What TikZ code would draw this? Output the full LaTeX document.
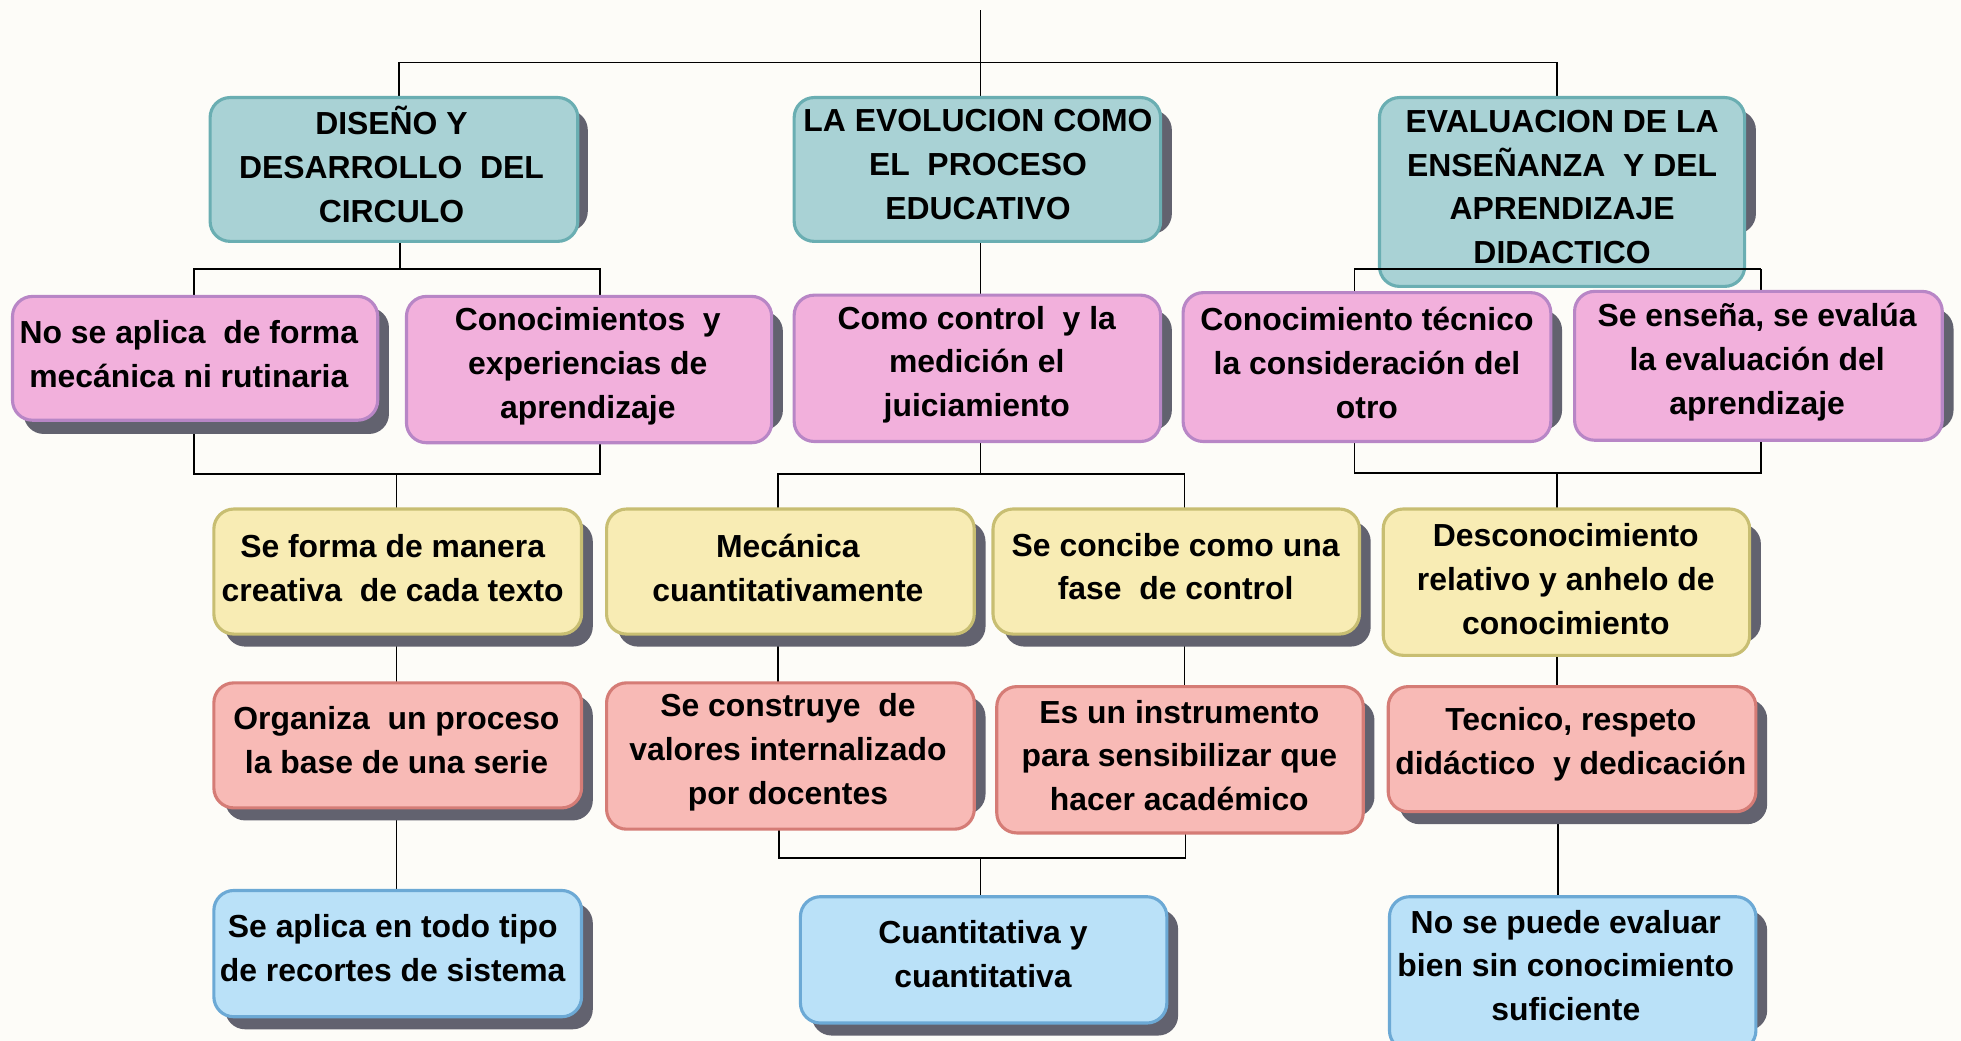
\documentclass[tikz,border=0pt]{standalone}
\usepackage{fontspec}
\setmainfont{Liberation Sans}
\definecolor{bgc}{HTML}{FDFCF8}
\definecolor{shadowc}{HTML}{62626F}
\definecolor{tealF}{HTML}{A9D2D5}
\definecolor{tealD}{HTML}{6AAEB2}
\definecolor{pinkF}{HTML}{F2B0DC}
\definecolor{pinkD}{HTML}{B886C6}
\definecolor{yelF}{HTML}{F8ECB4}
\definecolor{yelD}{HTML}{C8BE72}
\definecolor{salF}{HTML}{F8BAB6}
\definecolor{salD}{HTML}{D57C76}
\definecolor{bluF}{HTML}{BAE1F8}
\definecolor{bluD}{HTML}{6CA9D5}
\tikzset{
  box/.style={draw, line width=1.5pt, rounded corners=9.6pt, inner sep=0pt},
  tealbox/.style={box, fill=tealF, draw=tealD},
  pinkbox/.style={box, fill=pinkF, draw=pinkD},
  yelbox/.style={box, fill=yelF, draw=yelD},
  salbox/.style={box, fill=salF, draw=salD},
  blubox/.style={box, fill=bluF, draw=bluD},
  sz/.style n args={4}{minimum width={(#3-#1)*0.6pt}, minimum height={(#4-#2)*0.6pt},
     at={({(#1+#3)/2},{(#2+#4)/2})}},
  txt/.style={font=\bfseries\fontsize{15.3}{21}\selectfont, align=center, inner sep=0pt, text=black},
  conn/.style={line width=0.8pt, draw=black},
}
\newcommand\shd[4]{\fill[shadowc, rounded corners=9.6pt] (#1,#2) rectangle (#3,#4);}
\begin{document}
\begin{tikzpicture}[x=0.6pt, y=-0.6pt]
\useasboundingbox (0,0) rectangle (1568,832.37);
\clip (0,0) rectangle (1568,832.37);
\fill[bgc] (0,0) rectangle (1568,832.37);

% junction coordinates
\coordinate (top) at (784,8);
\coordinate (h1) at (319,50);
\coordinate (h2) at (1245,50);
\coordinate (jA) at (320,215);
\coordinate (jA1) at (155,215);
\coordinate (jA2) at (480,215);
\coordinate (jC1) at (1083,215);
\coordinate (jC2) at (1408,215);
\coordinate (kA1) at (155,379);
\coordinate (kA2) at (480,379);
\coordinate (kA) at (317,379);
\coordinate (kB) at (784,379);
\coordinate (kB1) at (622,379);
\coordinate (kB2) at (947,379);
\coordinate (kC1) at (1083,378);
\coordinate (kC2) at (1408,378);
\coordinate (kC) at (1245,378);
\coordinate (mB1) at (623,686);
\coordinate (mB2) at (948,686);
\coordinate (mB) at (784,686);
\coordinate (mC) at (1246,686);

% node outlines (names for anchors)
\path
  node[sz={168}{78}{462}{193}] (A) {}
  node[sz={635}{78}{928}{193}] (B) {}
  node[sz={1103}{78}{1395}{229}] (C) {}
  node[sz={10}{237}{302}{336}] (A1) {}
  node[sz={325}{237}{617}{354}] (A2) {}
  node[sz={635}{236}{928}{353}] (B1) {}
  node[sz={946}{234}{1240}{353}] (C1) {}
  node[sz={1259}{233}{1553}{352}] (C2) {}
  node[sz={171}{407}{465}{507}] (A3) {}
  node[sz={485}{407}{779}{507}] (B3) {}
  node[sz={794}{407}{1087}{507}] (B4) {}
  node[sz={1106}{407}{1399}{524}] (C3) {}
  node[sz={171}{546}{465}{646}] (A4) {}
  node[sz={485}{546}{779}{663}] (B5) {}
  node[sz={797}{549}{1090}{666}] (B6) {}
  node[sz={1110}{549}{1404}{649}] (C4) {}
  node[sz={171}{712}{465}{813}] (A5) {}
  node[sz={640}{717}{933}{818}] (B7) {}
  node[sz={1111}{717}{1404}{840}] (C5) {};

% ---- connectors
\draw[conn] (top) -- (B.north -| top);
\draw[conn] (A.north -| h1) -- (h1) -- (h2) -- (C.north -| h2);
\draw[conn] (A.south -| jA) -- (jA);
\draw[conn] (A1.north -| jA1) -- (jA1) -- (jA2) -- (A2.north -| jA2);
\draw[conn] (B.south -| top) -- (B1.north -| top);
\draw[conn] (C1.north -| jC1) -- (jC1);
\draw[conn] (C2.north -| jC2) -- (jC2);
\draw[conn] (A1.south -| kA1) -- (kA1) -- (kA2) -- (A2.south -| kA2);
\draw[conn] (kA) -- (A3.north -| kA);
\draw[conn] (B1.south -| kB) -- (kB);
\draw[conn] (B3.north -| kB1) -- (kB1) -- (kB2) -- (B4.north -| kB2);
\draw[conn] (C1.south -| kC1) -- (kC1) -- (kC2) -- (C2.south -| kC2);
\draw[conn] (kC) -- (C3.north -| kC);
\draw[conn] (A3.south -| kA) -- (A4.north -| kA);
\draw[conn] (B3.south -| kB1) -- (B5.north -| kB1);
\draw[conn] (B4.south -| kB2) -- (B6.north -| kB2);
\draw[conn] (C3.south -| kC) -- (C4.north -| kC);
\draw[conn] (A4.south -| kA) -- (A5.north -| kA);
\draw[conn] (B5.south -| mB1) -- (mB1) -- (mB2) -- (B6.south -| mB2);
\draw[conn] (mB) -- (B7.north -| mB);
\draw[conn] (C4.south -| mC) -- (C5.north -| mC);

% ---- shadows
\shd{176}{88}{470}{185}
\shd{643}{88}{937}{187}
\shd{1111}{88}{1404}{187}
\shd{19}{246}{311}{347}
\shd{334}{249}{626}{344}
\shd{644}{248}{937}{344}
\shd{955}{248}{1249}{344}
\shd{1268}{247}{1562}{344}
\shd{180}{417}{474}{517}
\shd{494}{417}{788}{517}
\shd{803}{417}{1096}{517}
\shd{1115}{419}{1408}{514}
\shd{180}{556}{474}{656}
\shd{494}{557}{788}{651}
\shd{806}{560}{1099}{653}
\shd{1119}{559}{1413}{659}
\shd{180}{722}{474}{823}
\shd{649}{727}{942}{828}
\shd{1120}{728}{1413}{824}

% ---- boxes
\node[tealbox, sz={168}{78}{462}{193}] (Ab) {};
\node[tealbox, sz={635}{78}{928}{193}] (Bb) {};
\node[tealbox, sz={1103}{78}{1395}{229}] (Cb) {};
\node[pinkbox, sz={10}{237}{302}{336}] (A1b) {};
\node[pinkbox, sz={325}{237}{617}{354}] (A2b) {};
\node[pinkbox, sz={635}{236}{928}{353}] (B1b) {};
\node[pinkbox, sz={946}{234}{1240}{353}] (C1b) {};
\node[pinkbox, sz={1259}{233}{1553}{352}] (C2b) {};
\node[yelbox, sz={171}{407}{465}{507}] (A3b) {};
\node[yelbox, sz={485}{407}{779}{507}] (B3b) {};
\node[yelbox, sz={794}{407}{1087}{507}] (B4b) {};
\node[yelbox, sz={1106}{407}{1399}{524}] (C3b) {};
\node[salbox, sz={171}{546}{465}{646}] (A4b) {};
\node[salbox, sz={485}{546}{779}{663}] (B5b) {};
\node[salbox, sz={797}{549}{1090}{666}] (B6b) {};
\node[salbox, sz={1110}{549}{1404}{649}] (C4b) {};
\node[blubox, sz={171}{712}{465}{813}] (A5b) {};
\node[blubox, sz={640}{717}{933}{818}] (B7b) {};
\node[blubox, sz={1111}{717}{1404}{840}] (C5b) {};

% connector crossing box C
\draw[conn] (jC1) -- (jC2);

% ---- texts
\node[txt] (At) at (313,131.5) {DISEÑO Y\\DESARROLLO\ \ DEL\\CIRCULO};
\node[txt] (Bt) at (782,131.5) {LA EVOLUCION COMO\\EL\ \ PROCESO\\EDUCATIVO};
\node[txt] (Ct) at (1249,149.5) {EVALUACION DE LA\\ENSEÑANZA\ \ Y DEL\\APRENDIZAJE\\DIDACTICO};
\node[txt] (A1t) at (151,283) {No se aplica\ \ de forma\\mecánica ni rutinaria};
\node[txt] (A2t) at (470,293) {Conocimientos\ \ y\\experiencias de\\aprendizaje};
\node[txt] (B1t) at (781,291.5) {Como control\ \ y la\\medición el\\juiciamiento};
\node[txt] (C1t) at (1093,290) {Conocimiento técnico\\la consideración del\\otro};
\node[txt] (C2t) at (1405,289.5) {Se enseña, se evalúa\\la evaluación del\\aprendizaje};
\node[txt] (A3t) at (314,454) {Se forma de manera\\creativa\ \ de cada texto};
\node[txt] (B3t) at (630,454) {Mecánica\\cuantitativamente};
\node[txt] (B4t) at (940,453) {Se concibe como una\\fase\ \ de control};
\node[txt] (C3t) at (1252,463) {Desconocimiento\\relativo y anhelo de\\conocimiento};
\node[txt] (A4t) at (317,592) {Organiza\ \ un proceso\\la base de una serie};
\node[txt] (B5t) at (630,601.5) {Se construye\ \ de\\valores internalizado\\por docentes};
\node[txt] (B6t) at (943,604) {Es un instrumento\\para sensibilizar que\\hacer académico};
\node[txt] (C4t) at (1256,595) {Tecnico, respeto\\didáctico\ \ y dedicación};
\node[txt] (A5t) at (314,758) {Se aplica en todo tipo\\de recortes de sistema};
\node[txt] (B7t) at (786,763) {Cuantitativa y\\cuantitativa};
\node[txt] (C5t) at (1252,772) {No se puede evaluar\\bien sin conocimiento\\suficiente};
\end{tikzpicture}
\end{document}
